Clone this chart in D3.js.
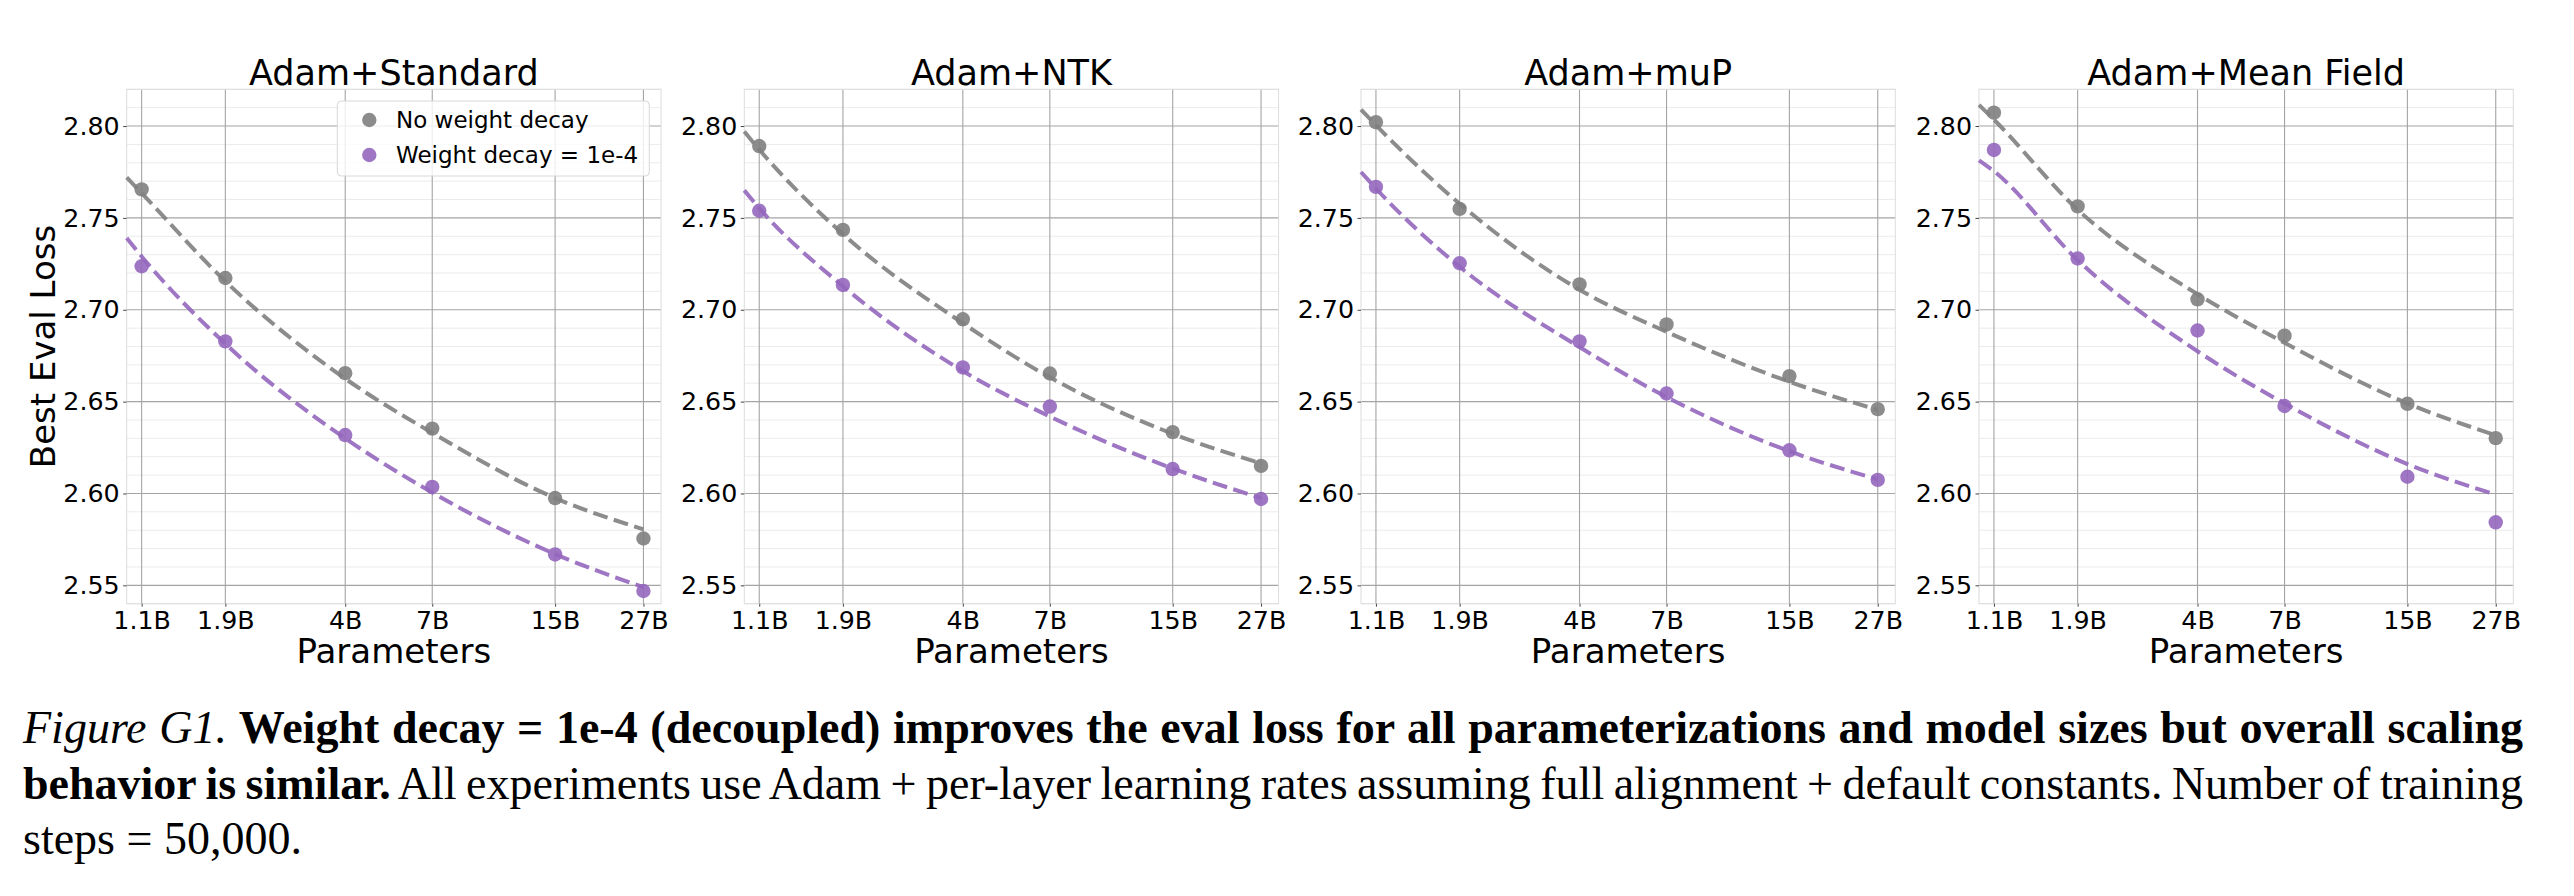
<!DOCTYPE html>
<html><head><meta charset="utf-8">
<script src="https://cdn.jsdelivr.net/npm/d3@7"></script>
<style>body{margin:0;background:#fff} svg{display:block}</style>
</head><body>
<svg id="chart" width="2574" height="896"></svg>
<script>
// ---------- data ----------
const panelTitles = ["Adam+Standard", "Adam+NTK", "Adam+muP", "Adam+Mean Field"];
const paramValues = [1.1, 1.876, 4.03, 7.02, 15.37, 27];          // billions
const paramLabels = ["1.1B", "1.9B", "4B", "7B", "15B", "27B"];
const fitParamValues = [1.0, 1.1, 1.876, 4.03, 7.02, 15.37, 27];
const yTickValues = [2.55, 2.60, 2.65, 2.70, 2.75, 2.80];
const seriesNames = ["No weight decay", "Weight decay = 1e-4"];

const standardNoWD = [2.7655, 2.7173, 2.6655, 2.6353, 2.5975, 2.5755];
const standardWD   = [2.7237, 2.6828, 2.6318, 2.6036, 2.5668, 2.5469];
const ntkNoWD      = [2.7891, 2.7435, 2.6948, 2.6653, 2.6334, 2.6150];
const ntkWD        = [2.7539, 2.7135, 2.6686, 2.6473, 2.6133, 2.5970];
const mupNoWD      = [2.8021, 2.7549, 2.7138, 2.6920, 2.6639, 2.6459];
const mupWD        = [2.7669, 2.7253, 2.6828, 2.6544, 2.6235, 2.6074];
const mfNoWD       = [2.8073, 2.7563, 2.7057, 2.6859, 2.6488, 2.6301];
const mfWD         = [2.7870, 2.7279, 2.6887, 2.6476, 2.6091, 2.5843];

const standardNoWDFit = [2.772, 2.7635, 2.7155, 2.6625, 2.6330, 2.5975, 2.5805];
const standardWDFit   = [2.739, 2.7290, 2.6815, 2.6300, 2.6005, 2.5670, 2.5490];
const ntkNoWDFit      = [2.797, 2.7872, 2.7412, 2.6927, 2.6632, 2.6325, 2.6164];
const ntkWDFit        = [2.765, 2.7553, 2.7128, 2.6667, 2.6419, 2.6136, 2.5975];
const mupNoWDFit      = [2.809, 2.8005, 2.7577, 2.7109, 2.6880, 2.6608, 2.6455];
const mupWDFit        = [2.775, 2.7660, 2.7234, 2.6797, 2.6525, 2.6230, 2.6077];
const mfNoWDFit       = [2.8115, 2.8035, 2.7545, 2.7085, 2.6820, 2.6490, 2.6317];
const mfWDFit         = [2.7813, 2.7754, 2.7270, 2.6774, 2.6490, 2.6160, 2.5994];

const panelPoints = [[standardNoWD, standardWD], [ntkNoWD, ntkWD], [mupNoWD, mupWD], [mfNoWD, mfWD]];
const panelFits = [[standardNoWDFit, standardWDFit], [ntkNoWDFit, ntkWDFit], [mupNoWDFit, mupWDFit], [mfNoWDFit, mfWDFit]];

// ---------- layout / style ----------
const colors = ["#7f7f7f", "#9467bd"];
const panelLefts = [126.7, 744.3, 1361, 1979];
const plotW = 534.3, plotTop = 89.3, plotBottom = 603.7;
const chartFont = "'DejaVu Sans', sans-serif";

const svg = d3.select("#chart");
svg.append("rect").attr("width", 2574).attr("height", 896).attr("fill", "#fff");

const y = d3.scaleLinear().domain([2.54, 2.82]).range([plotBottom, plotTop]);
const minorY = d3.range(2.54, 2.8201, 0.01).map(v => +v.toFixed(2)).filter(v => !yTickValues.some(t => Math.abs(t - v) < 1e-6));

panelTitles.forEach((title, p) => {
  const x0 = panelLefts[p];
  const x = d3.scaleLog().domain([1.0, 30.2]).range([x0, x0 + plotW]);
  const g = svg.append("g");

  // minor horizontal grid
  g.selectAll(".minor").data(minorY).join("line")
    .attr("x1", x0).attr("x2", x0 + plotW)
    .attr("y1", d => y(d)).attr("y2", d => y(d))
    .attr("stroke", "#ebebeb").attr("stroke-width", 1);
  // major horizontal grid
  g.selectAll(".majorY").data(yTickValues).join("line")
    .attr("x1", x0).attr("x2", x0 + plotW)
    .attr("y1", d => y(d)).attr("y2", d => y(d))
    .attr("stroke", "#a4a4a4").attr("stroke-width", 1.1);
  // vertical grid
  g.selectAll(".majorX").data(paramValues).join("line")
    .attr("x1", d => x(d)).attr("x2", d => x(d))
    .attr("y1", plotTop).attr("y2", plotBottom)
    .attr("stroke", "#a4a4a4").attr("stroke-width", 1.1);
  // spines
  g.append("rect").attr("x", x0).attr("y", plotTop).attr("width", plotW).attr("height", plotBottom - plotTop)
    .attr("fill", "none").attr("stroke", "#dcdcdc").attr("stroke-width", 1);

  // axes
  const ya = g.append("g").attr("transform", `translate(${x0},0)`)
    .call(d3.axisLeft(y).tickValues(yTickValues).tickFormat(d3.format(".2f")).tickSize(3.5).tickPadding(3.5));
  const xa = g.append("g").attr("transform", `translate(0,${plotBottom})`)
    .call(d3.axisBottom(x).tickValues(paramValues).tickFormat((d, i) => paramLabels[i]).tickSize(3).tickPadding(3.9));
  [ya, xa].forEach(a => {
    a.select(".domain").remove();
    a.selectAll(".tick line").attr("stroke", "#444");
    a.selectAll(".tick text").attr("font-family", chartFont).attr("font-size", 25.3).attr("fill", "#000");
  });

  // fit lines
  const line = d3.line().x(d => x(d[0])).y(d => y(d[1])).curve(d3.curveMonotoneX);
  panelFits[p].forEach((fit, s) => {
    g.append("path").datum(fitParamValues.map((v, i) => [v, fit[i]]))
      .attr("d", line).attr("fill", "none")
      .attr("stroke", colors[s]).attr("stroke-opacity", 0.9).attr("stroke-width", 4)
      .attr("stroke-dasharray", "15,6.5");
  });
  // points
  panelPoints[p].forEach((pts, s) => {
    g.selectAll(null).data(pts).join("circle")
      .attr("cx", (d, i) => x(paramValues[i])).attr("cy", d => y(d)).attr("r", 7.2)
      .attr("fill", colors[s]).attr("fill-opacity", 0.9);
  });

  // title
  g.append("text").attr("x", x0 + plotW / 2).attr("y", 84.5).attr("text-anchor", "middle")
    .attr("font-family", chartFont).attr("font-size", 35).text(title);
  // x label
  g.append("text").attr("x", x0 + plotW / 2).attr("y", 663).attr("text-anchor", "middle")
    .attr("font-family", chartFont).attr("font-size", 34).text("Parameters");

  if (p === 0) {
    g.append("text").attr("transform", `translate(54.5,${(plotTop + plotBottom) / 2}) rotate(-90)`)
      .attr("text-anchor", "middle").attr("font-family", chartFont).attr("font-size", 34).text("Best Eval Loss");
    // legend
    const lg = g.append("g");
    lg.append("rect").attr("x", 337.3).attr("y", 101).attr("width", 312).attr("height", 75).attr("rx", 4)
      .attr("fill", "#fff").attr("fill-opacity", 0.8).attr("stroke", "#d8d8d8").attr("stroke-width", 1);
    seriesNames.forEach((name, s) => {
      const cy = 120 + s * 35;
      lg.append("circle").attr("cx", 369.3).attr("cy", cy).attr("r", 7.2).attr("fill", colors[s]).attr("fill-opacity", 0.9);
      lg.append("text").attr("x", 396).attr("y", cy + 7.8).attr("font-family", chartFont).attr("font-size", 23).text(name);
    });
  }
});

// ---------- caption ----------
const captionLines = [
  [["Figure G1.", "italic", "normal"], [" Weight decay = 1e-4 (decoupled) improves the eval loss for all parameterizations and model sizes but overall scaling", "normal", "bold"]],
  [["behavior is similar.", "normal", "bold"], [" All experiments use Adam + per-layer learning rates assuming full alignment + default constants. Number of training", "normal", "normal"]],
  [["steps = 50,000.", "normal", "normal"]]
];
const capX = 23, capRight = 2523, capBase = [743, 798.5, 854];
captionLines.forEach((parts, li) => {
  const t = svg.append("text").attr("x", capX).attr("y", capBase[li])
    .attr("font-family", "'Liberation Serif', 'Times New Roman', serif").attr("font-size", 46).attr("fill", "#000")
    .style("white-space", "pre");
  parts.forEach(([txt, st, wt]) => t.append("tspan").attr("font-style", st).attr("font-weight", wt).text(txt));
  if (li < 2) {
    const len = t.node().getComputedTextLength();
    const nSpaces = parts.map(p => p[0]).join("").split(" ").length - 1;
    t.style("word-spacing", ((capRight - capX - len) / nSpaces) + "px");
  }
});
</script>
</body></html>
